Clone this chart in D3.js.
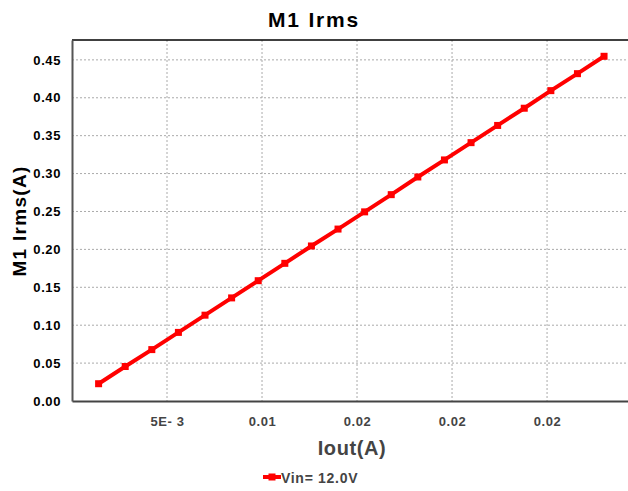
<!DOCTYPE html>
<html>
<head>
<meta charset="utf-8">
<script src="https://cdn.jsdelivr.net/npm/d3@7"></script>
<style>
  body { margin: 0; background: #fff; }
  text { font-family: "Liberation Sans", Arial, sans-serif; font-weight: bold; }
</style>
</head>
<body>
<div class="canvas"></div>
<script>
// data
const iout = [0.0014, 0.0028, 0.0042, 0.0056, 0.0070, 0.0084, 0.0098, 0.0112, 0.0126, 0.0140,
              0.0154, 0.0168, 0.0182, 0.0196, 0.0210, 0.0224, 0.0238, 0.0252, 0.0266, 0.0280];
const irms = [0.0228, 0.0455, 0.0678, 0.0905, 0.1132, 0.1360, 0.1587, 0.1816, 0.2045, 0.2268,
              0.2495, 0.2722, 0.2955, 0.3180, 0.3408, 0.3635, 0.3862, 0.4094, 0.4318, 0.4547];
const xTicks = [0.005, 0.01, 0.015, 0.02, 0.025];
const xTickLabels = ['5E- 3', '0.01', '0.02', '0.02', '0.02'];
const yTicks = [0, 0.05, 0.1, 0.15, 0.2, 0.25, 0.3, 0.35, 0.4, 0.45];
const seriesName = 'Vin= 12.0V';

const data = iout.map((d, i) => ({x: d, y: irms[i]}));

const width = 628, height = 491;
const margin = {top: 40, right: 0, bottom: 90, left: 72};
const graphWidth = width - margin.left - margin.right;
const graphHeight = height - margin.top - margin.bottom;

const svg = d3.select('.canvas')
    .append('svg')
    .attr('width', width)
    .attr('height', height);

const graph = svg.append('g')
    .attr('transform', `translate(${margin.left},${margin.top})`);

const x = d3.scaleLinear()
    .domain([0, 0.02926])
    .range([0, graphWidth]);
const y = d3.scaleLinear()
    .domain([0, 0.4762])
    .range([graphHeight, 0]);

// grid
graph.append('g').selectAll('line')
    .data(xTicks)
    .enter().append('line')
    .attr('x1', d => x(d)).attr('x2', d => x(d))
    .attr('y1', 0).attr('y2', graphHeight)
    .attr('stroke', '#aaa').attr('stroke-dasharray', '2,2');
graph.append('g').selectAll('line')
    .data(yTicks.slice(1))
    .enter().append('line')
    .attr('x1', 0).attr('x2', graphWidth)
    .attr('y1', d => y(d)).attr('y2', d => y(d))
    .attr('stroke', '#aaa').attr('stroke-dasharray', '2,2');

// frame
graph.append('line')
    .attr('x1', 0).attr('x2', graphWidth).attr('y1', 0).attr('y2', 0)
    .attr('stroke', '#000').attr('stroke-width', 1.5);

// axes
const xAxis = d3.axisBottom(x)
    .tickValues(xTicks)
    .tickSize(0)
    .tickPadding(16)
    .tickFormat((d, i) => xTickLabels[i]);
const yAxis = d3.axisLeft(y)
    .tickValues(yTicks)
    .tickSize(0)
    .tickPadding(11)
    .tickFormat(d3.format('.2f'));

const xAxisGroup = graph.append('g')
    .attr('transform', `translate(0, ${graphHeight})`)
    .call(xAxis);
const yAxisGroup = graph.append('g').call(yAxis);

xAxisGroup.select('.domain').attr('stroke', '#444').attr('stroke-width', 2);
yAxisGroup.select('.domain').attr('stroke', '#555').attr('stroke-width', 2);
xAxisGroup.selectAll('text')
    .attr('fill', '#444')
    .style('font-size', '13px')
    .style('letter-spacing', '0.6px')
    .style('font-family', '"Liberation Sans", Arial, sans-serif');
yAxisGroup.selectAll('text')
    .attr('fill', '#000')
    .style('font-size', '13px')
    .style('letter-spacing', '0.6px')
    .style('font-family', '"Liberation Sans", Arial, sans-serif');

// series
const line = d3.line()
    .x(d => x(d.x))
    .y(d => y(d.y));

graph.append('path')
    .datum(data)
    .attr('d', line)
    .attr('fill', 'none')
    .attr('stroke', '#ff0000')
    .attr('stroke-width', 4);

graph.selectAll('rect.pt')
    .data(data)
    .enter().append('rect')
    .attr('class', 'pt')
    .attr('x', d => x(d.x) - 3.5)
    .attr('y', d => y(d.y) - 3.5)
    .attr('width', 7)
    .attr('height', 7)
    .attr('fill', '#ff0000');

// titles
svg.append('text')
    .attr('x', 314).attr('y', 27)
    .attr('text-anchor', 'middle')
    .style('font-size', '21px')
    .style('letter-spacing', '1.8px')
    .attr('fill', '#000')
    .text('M1 Irms');

svg.append('text')
    .attr('x', 352).attr('y', 455)
    .attr('text-anchor', 'middle')
    .style('font-size', '20px')
    .style('letter-spacing', '0.6px')
    .attr('fill', '#444')
    .text('Iout(A)');

svg.append('text')
    .attr('transform', `translate(26, 221) rotate(-90)`)
    .attr('text-anchor', 'middle')
    .style('font-size', '19px')
    .style('letter-spacing', '1.3px')
    .attr('fill', '#000')
    .text('M1 Irms(A)');

// legend
const legend = svg.append('g').attr('transform', 'translate(263, 477)');
legend.append('line')
    .attr('x1', 0).attr('x2', 18).attr('y1', 0).attr('y2', 0)
    .attr('stroke', '#ff0000').attr('stroke-width', 4);
legend.append('rect')
    .attr('x', 5.5).attr('y', -3.5).attr('width', 7).attr('height', 7)
    .attr('fill', '#ff0000');
legend.append('text')
    .attr('x', 18).attr('y', 5.5)
    .style('font-size', '14px')
    .style('letter-spacing', '0.7px')
    .attr('fill', '#444')
    .text(seriesName);
</script>
</body>
</html>
